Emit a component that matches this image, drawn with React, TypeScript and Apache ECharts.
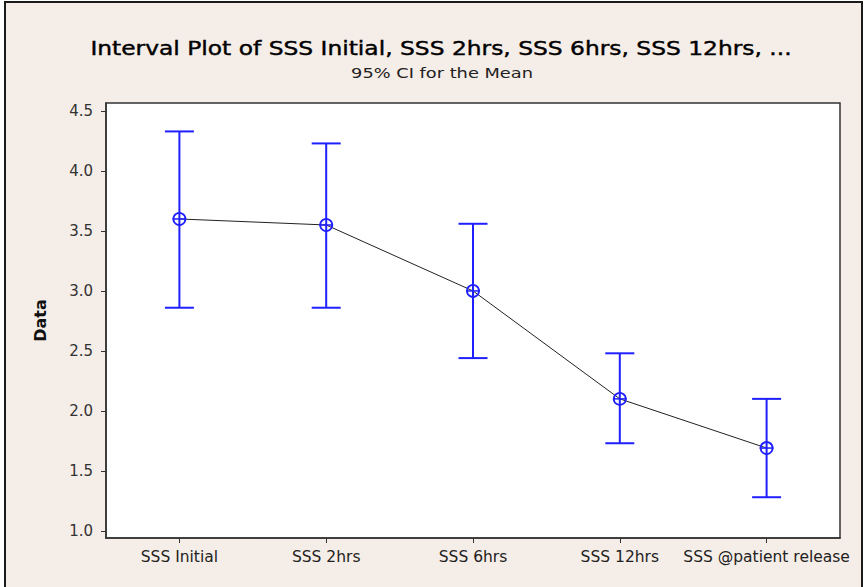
import React, { useEffect, useRef } from "react";
import * as echarts from "echarts";

const categories = ["SSS Initial", "SSS 2hrs", "SSS 6hrs", "SSS 12hrs", "SSS @patient release"];
const means = [3.6, 3.55, 3.0, 2.1, 1.69];
const lowers = [2.86, 2.86, 2.44, 1.73, 1.28];
const uppers = [4.33, 4.23, 3.56, 2.48, 2.1];
const yTicks = [1.0, 1.5, 2.0, 2.5, 3.0, 3.5, 4.0, 4.5];

const titleText = "Interval Plot of SSS Initial, SSS 2hrs, SSS 6hrs, SSS 12hrs, ...";
const subtitleText = "95% CI for the Mean";

const FONT = "DejaVu Sans";
const BLUE = "#1f1fff";

export default function App() {
  const ref = useRef<HTMLDivElement>(null);
  useEffect(() => {
    if (!ref.current) return;
    const chart = echarts.init(ref.current, null, { renderer: "svg" });
    const errData = categories.map((_, i) => [i, means[i], lowers[i], uppers[i]]);
    chart.setOption({
      animation: false,
      backgroundColor: "#ffffff",
      graphic: [
        {
          type: "rect",
          z: -10,
          silent: true,
          shape: { x: 5, y: 2, width: 857, height: 600 },
          style: { fill: "#F5EDE7", stroke: "#1a1a1a", lineWidth: 2 },
        },
        {
          type: "text",
          x: 441,
          y: 48,
          scaleX: 1.23,
          style: {
            text: titleText,
            font: `19px '${FONT}'`,
            fill: "#000",
            stroke: "#000",
            lineWidth: 0.4,
            textAlign: "center",
            textVerticalAlign: "middle",
          },
        },
        {
          type: "text",
          x: 442,
          y: 73,
          scaleX: 1.27,
          style: {
            text: subtitleText,
            font: `14px '${FONT}'`,
            fill: "#222",
            textAlign: "center",
            textVerticalAlign: "middle",
          },
        },
      ],
      grid: {
        left: 106,
        top: 103,
        right: 27,
        bottom: 49,
        show: true,
        backgroundColor: "#ffffff",
        borderColor: "#333",
        borderWidth: 1.5,
        containLabel: false,
      },
      xAxis: {
        type: "category",
        data: categories,
        boundaryGap: true,
        axisLine: { show: true, lineStyle: { color: "#333", width: 1.5 } },
        axisTick: { show: true, alignWithLabel: true, length: 5, lineStyle: { color: "#333" } },
        axisLabel: { interval: 0, color: "#222", fontFamily: FONT, fontSize: 15.5, margin: 11 },
        splitLine: { show: false },
      },
      yAxis: {
        type: "value",
        min: 0.94,
        max: 4.567,
        name: "Data",
        nameLocation: "middle",
        nameGap: 58,
        nameTextStyle: { fontFamily: FONT, fontSize: 16, fontWeight: "bold", color: "#111" },
        axisLine: { show: true, lineStyle: { color: "#333", width: 1.5 } },
        axisTick: { show: true, length: 5, customValues: yTicks, lineStyle: { color: "#333" } },
        axisLabel: {
          customValues: yTicks,
          color: "#333",
          fontFamily: FONT,
          fontSize: 15,
          margin: 13,
          formatter: (v: number) => v.toFixed(1),
        },
        splitLine: { show: false },
      },
      series: [
        {
          type: "line",
          data: means,
          symbol: "none",
          lineStyle: { color: "#222", width: 1 },
          z: 2,
        },
        {
          type: "custom",
          data: errData,
          z: 3,
          renderItem: (params: any, api: any) => {
            const i = api.value(0);
            const m = api.coord([i, api.value(1)]);
            const lo = api.coord([i, api.value(2)]);
            const hi = api.coord([i, api.value(3)]);
            const cap = 14.5;
            const r = 6;
            const st = { stroke: BLUE, lineWidth: 2, fill: "none" };
            return {
              type: "group",
              children: [
                { type: "line", shape: { x1: hi[0], y1: hi[1], x2: lo[0], y2: lo[1] }, style: st },
                { type: "line", shape: { x1: hi[0] - cap, y1: hi[1], x2: hi[0] + cap, y2: hi[1] }, style: st },
                { type: "line", shape: { x1: lo[0] - cap, y1: lo[1], x2: lo[0] + cap, y2: lo[1] }, style: st },
                { type: "line", shape: { x1: m[0] - r - 1, y1: m[1], x2: m[0] + r + 1, y2: m[1] }, style: { stroke: BLUE, lineWidth: 1.5 } },
                { type: "circle", shape: { cx: m[0], cy: m[1], r }, style: { stroke: BLUE, lineWidth: 1.8, fill: "none" } },
              ],
            };
          },
        },
      ],
    });
    return () => chart.dispose();
  }, []);
  return (
    <div
      ref={ref}
      style={{ position: "fixed", left: 0, top: 0, width: 867, height: 587 }}
    />
  );
}
